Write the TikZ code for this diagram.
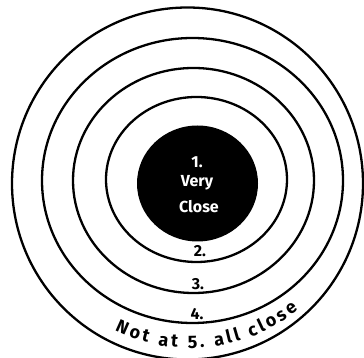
\documentclass[tikz,border=0pt]{standalone}
\usepackage{fontspec}
\setmainfont{Fira Sans}
\usetikzlibrary{decorations.text}
\begin{document}
\begin{tikzpicture}[x=1pt,y=1pt,
  ring/.style={draw=black,line width=2.3pt},
  lbl/.style={font=\bfseries\fontsize{16}{17}\selectfont,inner sep=0pt},
  inlbl/.style={lbl,text=white}]
\useasboundingbox (0,0) rectangle (364,358);
\draw[ring] (187.5,174.5) ellipse [x radius=175.5,y radius=176];
\draw[ring] (192.5,177.5) ellipse [x radius=150.5,y radius=142.5];
\draw[ring] (193.5,177.5) ellipse [x radius=120.5,y radius=112.5];
\draw[ring] (196.5,178.5) ellipse [x radius=90.5,y radius=82.5];
\fill[black] (197.5,174.5) ellipse [x radius=60.5,y radius=58];
\node[inlbl] (one) at (197,196) {1.};
\node[inlbl] (very) at (197,175) {Very};
\node[inlbl] (close) at (199,151) {Close};
\node[lbl] (two) at (200,107) {2.};
\node[lbl] (three) at (198,74) {3.};
\node[lbl] (four) at (197,44) {4.};
\path[decorate,decoration={text along path,
  text={|\bfseries\fontsize{18}{18}\selectfont|Not at 5. all close},
  text align=fit to path}]
  (190,182) ++(244:172) arc[start angle=244,end angle=309,radius=172];
\end{tikzpicture}
\end{document}
